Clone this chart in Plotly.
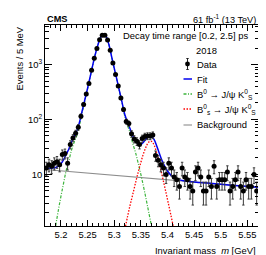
import numpy as np
import plotly.graph_objects as go

# ---------------- data ----------------
bin_centers = [round(5.1725 + 0.005 * k, 4) for k in range(80)]
events = [13, 15, 14, 16, 17, 15, 23, 24, 16, 35,
          46, 56, 72, 115, 188, 290, 450, 790, 1300, 1950,
          2840, 3400, 3400, 2800, 1820, 1070, 660, 405, 247, 152,
          92, 84, 55, 44, 40, 35, 45, 49, 50, 50,
          52, 22, 18, 15, 13, 10, 16, 13, 9, 8,
          6, 13, 9, 8, 6, 5, 11, 13, 9, 5,
          5, 9, 6, 14, 6, 8, 8, 8, 11, 5,
          6, 8, 11, 6, 5, 8, 6, 6, 10, 5]

fit_mass = [5.170, 5.175, 5.180, 5.185, 5.190, 5.195, 5.200, 5.205, 5.210, 5.215,
            5.220, 5.225, 5.230, 5.235, 5.240, 5.245, 5.250, 5.255, 5.260, 5.265,
            5.270, 5.275, 5.280, 5.285, 5.290, 5.295, 5.300, 5.305, 5.310, 5.315,
            5.320, 5.325, 5.330, 5.335, 5.340, 5.345, 5.350, 5.355, 5.360, 5.365,
            5.370, 5.375, 5.380, 5.385, 5.390, 5.395, 5.400, 5.405, 5.410, 5.415,
            5.420, 5.430, 5.440, 5.460, 5.480, 5.500, 5.520, 5.540, 5.570]
fit_vals = [13.0, 12.9, 12.9, 13.1, 13.3, 14.1, 15.6, 18.5, 23.4, 29.3,
            39.2, 50.1, 63, 91, 146, 233, 371, 610, 1010, 1610,
            2390, 3210, 3560, 3210, 2310, 1410, 860, 530, 325, 199,
            122, 89, 67, 49.4, 41, 35.9, 35.3, 38.7, 44.1, 49.5,
            49.6, 43, 32.6, 23.7, 17.6, 13.9, 11.5, 10.0, 9.1, 8.5,
            8.1, 7.65, 7.42, 7.13, 6.87, 6.62, 6.37, 6.14, 5.80]

b0_mass = [5.190, 5.195, 5.200, 5.205, 5.210, 5.215, 5.220, 5.225, 5.230, 5.235,
           5.240, 5.245, 5.250, 5.255, 5.260, 5.265, 5.270, 5.275, 5.280, 5.285,
           5.290, 5.295, 5.300, 5.305, 5.310, 5.315, 5.320, 5.325, 5.330, 5.335,
           5.340, 5.345, 5.350, 5.355, 5.360, 5.365, 5.370]
b0_vals = [1.15, 2.2, 4, 7, 12, 18, 28, 39, 52, 80,
           135, 222, 360, 600, 1000, 1600, 2380, 3200, 3550, 3200,
           2300, 1400, 850, 520, 315, 190, 112, 78, 55, 36,
           25, 16, 10, 6, 3.5, 2.0, 1.15]

bs_mass = [5.320, 5.325, 5.330, 5.335, 5.340, 5.345, 5.350, 5.355, 5.360, 5.365,
           5.370, 5.375, 5.380, 5.385, 5.390, 5.395, 5.400, 5.405, 5.410, 5.415]
bs_vals = [1.0, 1.7, 2.8, 4.4, 7.0, 11, 16.5, 24, 32, 39,
           40, 34, 24, 15.5, 9.5, 5.8, 3.5, 2.1, 1.25, 0.8]

bkg_mass = [5.17, 5.57]
bkg_vals = [12.3, 5.8]

x_tick_vals = [5.2, 5.25, 5.3, 5.35, 5.4, 5.45, 5.5, 5.55]
x_tick_text = ["5.2", "5.25", "5.3", "5.35", "5.4", "5.45", "5.5", "5.55"]
y_tick_vals = [10, 100, 1000]
y_tick_text = ["10", "10<sup>2</sup>", "10<sup>3</sup>"]

FONT = "Liberation Sans, Arial, sans-serif"
FS = 9.4
GREEN = "#3cb43c"
GREEN_DASH = "3px,1.5px,1px,1.5px"
RED_DASH = "1.5px,1.5px"

fig = go.Figure()
fig.add_trace(go.Scatter(x=bkg_mass, y=bkg_vals, mode="lines",
                         line=dict(color="#8c8c8c", width=1.1)))
fig.add_trace(go.Scatter(x=b0_mass, y=b0_vals, mode="lines", line_shape="spline",
                         line=dict(color=GREEN, width=1.2, dash=GREEN_DASH)))
fig.add_trace(go.Scatter(x=bs_mass, y=bs_vals, mode="lines", line_shape="spline",
                         line=dict(color="#ff0000", width=1.3, dash=RED_DASH)))
fig.add_trace(go.Scatter(x=fit_mass, y=fit_vals, mode="lines", line_shape="spline",
                         line=dict(color="#0000ee", width=1.5)))
fig.add_trace(go.Scatter(x=bin_centers, y=events, mode="markers",
                         marker=dict(color="black", size=5),
                         error_y=dict(type="data", array=list(np.sqrt(events)),
                                      color="#3a3a3a", thickness=1, width=1.2)))

# geometry helpers for paper coords
L, R, T, B = 37, 250, 17, 218
def px(x):
    return (x - L) / (R - L)
def py(y):
    return (B - y) / (B - T)

ann = []
def text(x, y, s, xanchor="left", size=FS, **kw):
    ann.append(dict(x=px(x), y=py(y), xref="paper", yref="paper", text=s,
                    showarrow=False, xanchor=xanchor, yanchor="middle",
                    font=dict(family=FONT, size=size, color="black"), **kw))

text(37, 11.5, "<b>CMS</b>", "left", size=9.2)
text(250, 11.5, "61 fb<sup>-1</sup> (13 TeV)", "right", size=9.2)
text(177, 28, "Decay time range [0.2, 2.5] ps", "center")
text(198, 42, "2018", "center")
text(187, 56, "Data")
text(187, 71, "Fit")
text(187, 86, "B<sup>0</sup> → J/ψ K<sup>0</sup><sub>S</sub>")
text(187, 101, "B<sup>0</sup><sub>s</sub> → J/ψ K<sup>0</sup><sub>S</sub>")
text(187, 117, "Background")
text(250, 242.5, "Invariant mass  <i>m</i> [GeV]", "right")
ann.append(dict(x=px(10.5), y=1, xref="paper", yref="paper", text="Events / 5 MeV",
                showarrow=False, textangle=-90, xanchor="center", yanchor="top",
                font=dict(family=FONT, size=FS, color="black")))

shapes = []
def sw(y, color, dash, width=1.3):
    shapes.append(dict(type="line", xref="paper", yref="paper",
                       x0=px(175.5), x1=px(184), y0=py(y), y1=py(y),
                       line=dict(color=color, width=width, dash=dash)))
sw(71, "#0000ee", "solid", 1.5)
sw(86, GREEN, GREEN_DASH)
sw(101, "#ff0000", RED_DASH)
sw(117, "#8c8c8c", "solid", 1.1)
# data swatch
shapes.append(dict(type="line", xref="paper", yref="paper", x0=px(179.5), x1=px(179.5),
                   y0=py(50.5), y1=py(61.5), line=dict(color="#222222", width=1)))
for yy in (50.5, 61.5):
    shapes.append(dict(type="line", xref="paper", yref="paper", x0=px(178.3), x1=px(180.7),
                       y0=py(yy), y1=py(yy), line=dict(color="#222222", width=1)))
shapes.append(dict(type="circle", xref="paper", yref="paper", x0=px(177.1), x1=px(181.9),
                   y0=py(58.4), y1=py(53.6), fillcolor="black", line=dict(color="black", width=0)))

fig.update_layout(
    width=266, height=255, margin=dict(l=L, r=266 - R, t=T, b=255 - B),
    paper_bgcolor="white", plot_bgcolor="white", showlegend=False,
    annotations=ann, shapes=shapes,
    font=dict(family=FONT, size=FS, color="black"),
    xaxis=dict(range=[5.17, 5.57], tickvals=x_tick_vals, ticktext=x_tick_text,
               ticks="inside", ticklen=6, tickcolor="black", showgrid=False, zeroline=False,
               showline=True, linecolor="black", linewidth=1, mirror="allticks",
               tickfont=dict(family=FONT, size=FS),
               minor=dict(ticks="inside", ticklen=3, dtick=0.01, tick0=5.17, tickcolor="black", showgrid=False)),
    yaxis=dict(type="log", range=[0.06, 3.72], tickvals=y_tick_vals, ticktext=y_tick_text,
               ticks="inside", ticklen=7, tickcolor="black", showgrid=False, zeroline=False,
               showline=True, linecolor="black", linewidth=1, mirror="allticks",
               tickfont=dict(family=FONT, size=FS),
               minor=dict(ticks="inside", ticklen=3.5, dtick="D1", tickcolor="black", showgrid=False)),
)
fig.write_html("out.html")
